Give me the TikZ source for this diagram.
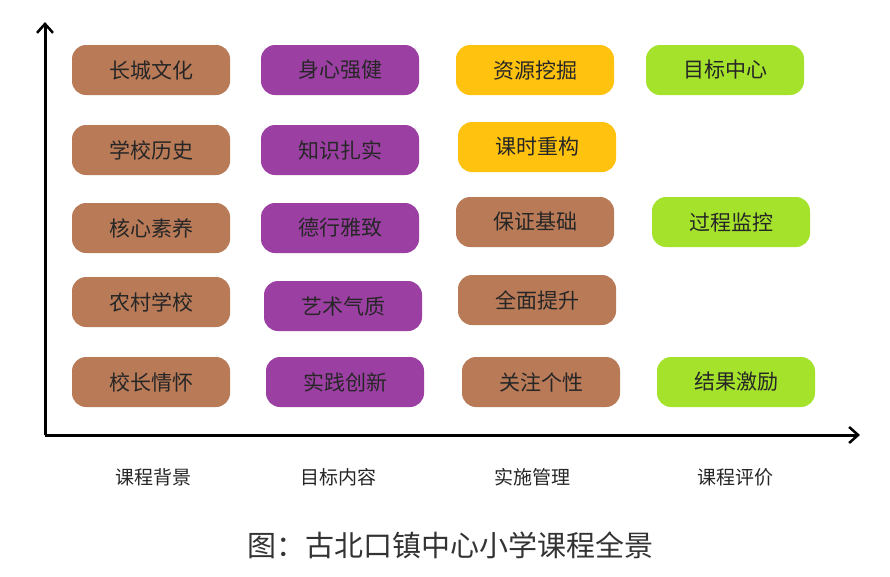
\documentclass[tikz,border=0pt]{standalone}
\usepackage{fontspec}
\usetikzlibrary{arrows.meta}
\newfontfamily\cjk{Noto Sans CJK SC}
\definecolor{cbrown}{HTML}{B97A57}
\definecolor{cpurple}{HTML}{9C3FA3}
\definecolor{cyellow}{HTML}{FFC20E}
\definecolor{cgreen}{HTML}{A4E22C}
\begin{document}
\begin{tikzpicture}[x=1pt,y=-1pt,
  box/.style={rounded corners=14pt,minimum width=158pt,minimum height=50pt,font=\cjk\fontsize{21}{21}\selectfont,text=black!85},
  lab/.style={font=\cjk\fontsize{19}{19}\selectfont,text=black!85}]
\useasboundingbox (0,0) rectangle (890,576);
\fill[white] (0,0) rectangle (890,576);
\coordinate (o) at (45,435);
\coordinate (yt) at (45,22);
\coordinate (xr) at (860,435);
\draw[line width=3pt,-{Straight Barb[length=9pt,width=16pt,line width=2.5pt]}] (o) -- (yt);
\draw[line width=3pt,-{Straight Barb[length=9pt,width=16pt,line width=2.5pt]}] (o) -- (xr);
\node[box,fill=cbrown] (a1) at (151,70) {长城文化};
\node[box,fill=cbrown] (a2) at (151,150) {学校历史};
\node[box,fill=cbrown] (a3) at (151,228) {核心素养};
\node[box,fill=cbrown] (a4) at (151,302) {农村学校};
\node[box,fill=cbrown] (a5) at (151,382) {校长情怀};
\node[box,fill=cpurple] (b1) at (340,70) {身心强健};
\node[box,fill=cpurple] (b2) at (340,150) {知识扎实};
\node[box,fill=cpurple] (b3) at (340,228) {德行雅致};
\node[box,fill=cpurple] (b4) at (343,306) {艺术气质};
\node[box,fill=cpurple] (b5) at (345,382) {实践创新};
\node[box,fill=cyellow] (c1) at (535,70) {资源挖掘};
\node[box,fill=cyellow] (c2) at (537,147) {课时重构};
\node[box,fill=cbrown] (c3) at (535,222) {保证基础};
\node[box,fill=cbrown] (c4) at (537,300) {全面提升};
\node[box,fill=cbrown] (c5) at (541,382) {关注个性};
\node[box,fill=cgreen] (d1) at (725,70) {目标中心};
\node[box,fill=cgreen] (d2) at (731,222) {过程监控};
\node[box,fill=cgreen] (d3) at (736,382) {结果激励};
\node[lab] (l1) at (153,477) {课程背景};
\node[lab] (l2) at (338,477) {目标内容};
\node[lab] (l3) at (532,477) {实施管理};
\node[lab] (l4) at (735,477) {课程评价};
\node[font=\cjk\fontsize{29}{29}\selectfont,text=black!80] (cap) at (450,545) {图：古北口镇中心小学课程全景};
\end{tikzpicture}
\end{document}
